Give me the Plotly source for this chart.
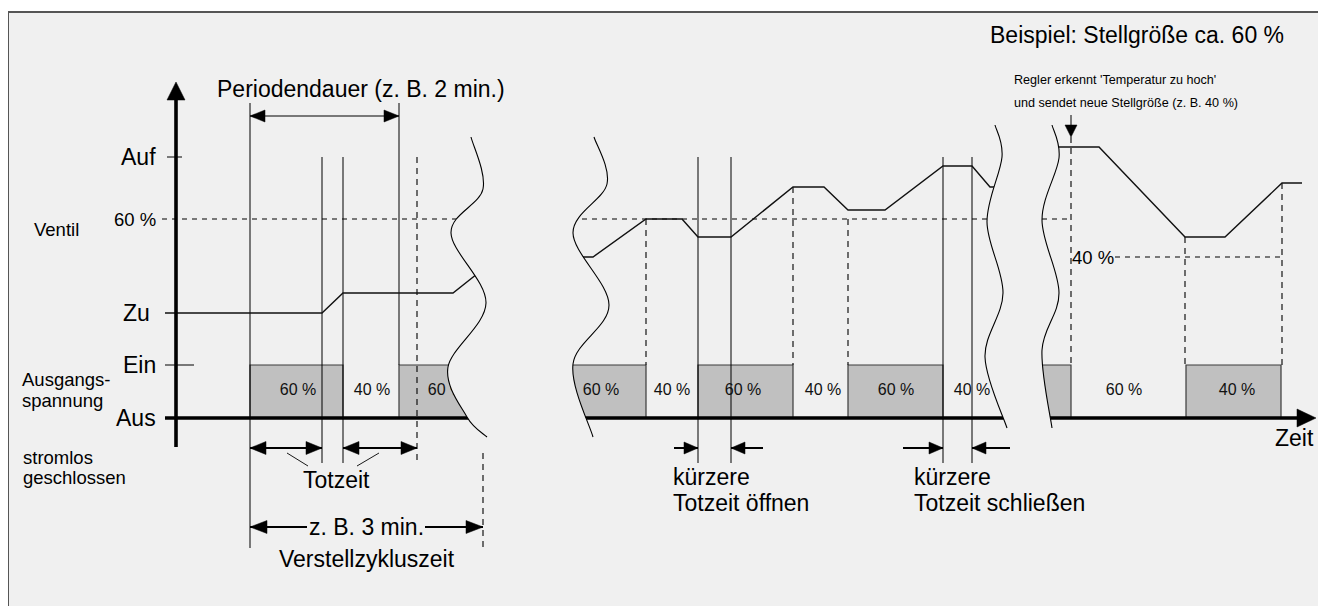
import plotly.graph_objects as go

W, H = 1326, 606
PAGE_MARGIN = 8  # default browser body margin around the plot div

# ---------------- data (diagram units: x = time position, y = level position) ----------------
LEVEL_LABELS = ["Auf", "60 %", "Zu", "Ein", "Aus"]
LEVEL_Y = [157, 219, 313, 365, 418]
AXIS_X = 176

# valve position traces (three time windows)
VALVE_A_X = [165, 322, 343, 453, 482]
VALVE_A_Y = [313, 313, 293, 293, 270]
VALVE_B_X = [570, 593, 646, 682, 698, 731, 793, 824, 848, 885, 943, 972, 990, 1012]
VALVE_B_Y = [257, 257, 219, 219, 237, 237, 187, 187, 210, 210, 166, 166, 187, 187]
VALVE_C_X = [1035, 1099, 1185, 1225, 1282, 1302]
VALVE_C_Y = [147, 147, 237, 237, 183, 183]

# output voltage "Ein" intervals
ON_START = [250, 399, 560, 698, 848, 1030, 1186]
ON_END = [343, 490, 646, 793, 943, 1071, 1281]

# duty labels inside the voltage band
DUTY_TEXT = ["60 %", "40 %", "60 %", "60 %", "40 %", "60 %", "40 %", "60 %", "40 %", "60 %", "40 %"]
DUTY_X = [298, 372, 446, 601, 672, 743, 823, 896, 972, 1124, 1237]

# time breaks (wavy cut lines)
WAVE_1 = [(471, 137), (483, 189), (451, 233), (486, 303), (448, 367), (467, 417), (487, 437)]
WAVE_2 = [(594, 137), (607, 184), (573, 233), (609, 305), (573, 364), (593, 437)]
WAVE_3 = [(995, 125), (1002, 157), (987, 222), (1003, 293), (985, 357), (1007, 428)]
WAVE_4 = [(1052, 125), (1059, 158), (1042, 220), (1059, 293), (1042, 350), (1052, 428)]

# marker lines
SOLID_V_X = [250, 399, 322, 343, 698, 731, 943, 972]
SOLID_V_Y0 = [103, 103, 157, 157, 157, 157, 157, 157]
SOLID_V_Y1 = [548, 365, 463, 463, 463, 463, 463, 463]
DASH_V_X = [417, 483, 646, 793, 848, 1071, 1185, 1282]
DASH_V_Y0 = [157, 453, 219, 187, 219, 137, 237, 183]
DASH_V_Y1 = [462, 548, 365, 365, 365, 365, 365, 365]
DASH_H_X0 = [162, 1115]
DASH_H_X1 = [1071, 1280]
DASH_H_Y = [219, 257]

# dimension arrows
PERIOD_SPAN = [250, 399]
PERIOD_Y = 116
DEADTIME_SPANS = [[250, 322], [343, 417]]
DEADTIME_Y = 448
CYCLE_SPAN = [250, 483]
CYCLE_GAP = [307, 425]
CYCLE_Y = 527
SHORT_SPANS = [[698, 731], [943, 972]]
SHORT_OUTER = [[674, 763], [903, 1010]]
SHORT_Y = 448
LEADERS = [[287, 453, 308, 466], [379, 453, 357, 466]]
NEW_SETPOINT_X = 1071
NEW_SETPOINT_Y = [115, 137]

FONT = "Liberation Sans, Arial, Helvetica, sans-serif"
BG = "#f0f0f0"

shapes_below = []
shapes_above = []


def line(x0, y0, x1, y1, width=1.0, color="#000", dash="solid", layer="below"):
    s = dict(type="line", xref="x", yref="y", x0=x0, y0=y0, x1=x1, y1=y1,
             line=dict(color=color, width=width, dash=dash), layer=layer)
    (shapes_below if layer == "below" else shapes_above).append(s)


def head(tx, ty, d, length, half):
    if d == "left":
        p = [(tx, ty), (tx + length, ty - half), (tx + length, ty + half)]
    elif d == "right":
        p = [(tx, ty), (tx - length, ty - half), (tx - length, ty + half)]
    elif d == "up":
        p = [(tx, ty), (tx - half, ty + length), (tx + half, ty + length)]
    else:
        p = [(tx, ty), (tx - half, ty - length), (tx + half, ty - length)]
    path = "M {} {} L {} {} L {} {} Z".format(*p[0], *p[1], *p[2])
    shapes_above.append(dict(type="path", xref="x", yref="y", path=path,
                             fillcolor="#000", line=dict(color="#000", width=0.5), layer="above"))


def segs(pts):
    P = [pts[0]] + list(pts) + [pts[-1]]
    out = []
    for i in range(1, len(P) - 2):
        p0, p1, p2, p3 = P[i - 1], P[i], P[i + 1], P[i + 2]
        c1 = (p1[0] + (p2[0] - p0[0]) / 6, p1[1] + (p2[1] - p0[1]) / 6)
        c2 = (p2[0] - (p3[0] - p1[0]) / 6, p2[1] - (p3[1] - p1[1]) / 6)
        out.append((p1, c1, c2, p2))
    return out


def seg_path(sg, move=True):
    s = "M {:.1f} {:.1f}".format(*sg[0][0]) if move else "L {:.1f} {:.1f}".format(*sg[0][0])
    for (_, c1, c2, p2) in sg:
        s += " C {:.1f} {:.1f} {:.1f} {:.1f} {:.1f} {:.1f}".format(*c1, *c2, *p2)
    return s


def reverse(sg):
    return [(p2, c2, c1, p1) for (p1, c1, c2, p2) in reversed(sg)]


# panel
shapes_below.append(dict(type="rect", xref="x", yref="y", x0=8, y0=12, x1=1322, y1=640,
                         fillcolor=BG, line=dict(color="#555", width=2), layer="below"))

# output bars
for x0, x1 in zip(ON_START, ON_END):
    shapes_below.append(dict(type="rect", xref="x", yref="y", x0=x0, x1=x1,
                             y0=LEVEL_Y[3], y1=LEVEL_Y[4], fillcolor="#c0c0c0",
                             line=dict(color="#3a3a3a", width=1.2), layer="below"))

# dashed reference lines
for x0, x1, y in zip(DASH_H_X0, DASH_H_X1, DASH_H_Y):
    line(x0, y, x1, y, width=1.1, dash="5px,5px")
for x, y0, y1 in zip(DASH_V_X, DASH_V_Y0, DASH_V_Y1):
    line(x, y0, x, y1, width=1.1, dash="6px,5px")
for x, y0, y1 in zip(SOLID_V_X, SOLID_V_Y0, SOLID_V_Y1):
    line(x, y0, x, y1, width=1.0)

# baseline (Aus) and time arrow
line(165, LEVEL_Y[4], 1298, LEVEL_Y[4], width=3.6)
head(1316, LEVEL_Y[4], "right", 19, 9)
# ticks
line(167, LEVEL_Y[0], 182, LEVEL_Y[0], width=1.0)
line(165, LEVEL_Y[3], 194, LEVEL_Y[3], width=1.0)

# masks over the time breaks, then the wavy lines
for wl, wr in [(WAVE_1, WAVE_2), (WAVE_3, WAVE_4)]:
    sl, sr = segs(wl), segs(wr)
    path = seg_path(sl) + " " + seg_path(reverse(sr), move=False) + " Z"
    shapes_above.append(dict(type="path", xref="x", yref="y", path=path, fillcolor=BG,
                             line=dict(width=0), layer="above"))
for w in [WAVE_1, WAVE_2, WAVE_3, WAVE_4]:
    shapes_above.append(dict(type="path", xref="x", yref="y", path=seg_path(segs(w)),
                             line=dict(color="#000", width=1.1), layer="above"))

# vertical axis
line(AXIS_X, 98, AXIS_X, 447, width=3.6, layer="above")
head(AXIS_X, 82, "up", 18, 9)

# dimension arrows
line(PERIOD_SPAN[0], PERIOD_Y, PERIOD_SPAN[1], PERIOD_Y, width=1.2, layer="above")
head(PERIOD_SPAN[0], PERIOD_Y, "left", 15, 6)
head(PERIOD_SPAN[1], PERIOD_Y, "right", 15, 6)
for a, b in DEADTIME_SPANS:
    line(a, DEADTIME_Y, b, DEADTIME_Y, width=2.2, layer="above")
    head(a, DEADTIME_Y, "left", 16, 6.5)
    head(b, DEADTIME_Y, "right", 16, 6.5)
line(CYCLE_SPAN[0], CYCLE_Y, CYCLE_GAP[0], CYCLE_Y, width=2.0, layer="above")
line(CYCLE_GAP[1], CYCLE_Y, CYCLE_SPAN[1], CYCLE_Y, width=2.0, layer="above")
head(CYCLE_SPAN[0], CYCLE_Y, "left", 17, 6.5)
head(CYCLE_SPAN[1], CYCLE_Y, "right", 17, 6.5)
for (a, b), (oa, ob) in zip(SHORT_SPANS, SHORT_OUTER):
    line(oa, SHORT_Y, a, SHORT_Y, width=2.0, layer="above")
    line(b, SHORT_Y, ob, SHORT_Y, width=2.0, layer="above")
    head(a, SHORT_Y, "right", 14, 6)
    head(b, SHORT_Y, "left", 14, 6)
for x0, y0, x1, y1 in LEADERS:
    line(x0, y0, x1, y1, width=0.9, layer="above")
line(NEW_SETPOINT_X, NEW_SETPOINT_Y[0], NEW_SETPOINT_X, NEW_SETPOINT_Y[1] - 10, width=1.0, layer="above")
head(NEW_SETPOINT_X, NEW_SETPOINT_Y[1], "down", 12, 6)

fig = go.Figure()
for xs, ys in [(VALVE_A_X, VALVE_A_Y), (VALVE_B_X, VALVE_B_Y), (VALVE_C_X, VALVE_C_Y)]:
    fig.add_trace(go.Scatter(x=xs, y=ys, mode="lines", line=dict(color="#111", width=1.4),
                             hoverinfo="skip"))
fig.add_trace(go.Scatter(x=DUTY_X, y=[391] * len(DUTY_X), mode="text", text=DUTY_TEXT,
                         textposition="middle center",
                         textfont=dict(family=FONT, size=16, color="#111"), hoverinfo="skip"))

ann = []


def text(x, y, s, size, anchor="center"):
    ann.append(dict(x=x, y=y, xref="x", yref="y", text=s, showarrow=False,
                    xanchor=anchor, yanchor="middle",
                    font=dict(family=FONT, size=size, color="#000")))


# level labels
for lab, y in zip(LEVEL_LABELS, LEVEL_Y):
    text(158 if lab != "Zu" else 152, y, lab, 18.5 if "%" in lab else 23, "right")
text(1116, 257, "40 %", 18.5, "right")

text(32, 229, "Ventil", 18.5, "left")
text(20, 379, "Ausgangs-", 18.5, "left")
text(20, 400, "spannung", 18.5, "left")
text(21, 457, "stromlos", 18.5, "left")
text(21, 477, "geschlossen", 18.5, "left")

text(361, 89, "Periodendauer (z. B. 2 min.)", 23)
text(336, 480, "Totzeit", 23)
text(366, 527, "z. B. 3 min.", 23)
text(367, 559, "Verstellzykluszeit", 23)
text(671, 477, "kürzere", 23, "left")
text(671, 503, "Totzeit öffnen", 23, "left")
text(912, 477, "kürzere", 23, "left")
text(912, 503, "Totzeit schließen", 23, "left")
text(1294, 438, "Zeit", 23)
text(1286, 35, "Beispiel: Stellgröße ca. 60 %", 23, "right")
text(1012, 80, "Regler erkennt 'Temperatur zu hoch'", 12.6, "left")
text(1012, 103, "und sendet neue Stellgröße (z. B. 40 %)", 12.6, "left")

fig.update_layout(
    width=W - PAGE_MARGIN, height=H - PAGE_MARGIN, margin=dict(l=0, r=0, t=0, b=0),
    paper_bgcolor="white", plot_bgcolor="white", showlegend=False,
    xaxis=dict(range=[PAGE_MARGIN, W], visible=False, fixedrange=True),
    yaxis=dict(range=[H, PAGE_MARGIN], visible=False, fixedrange=True),
    shapes=shapes_below + shapes_above, annotations=ann,
)
fig.write_html("out.html")
